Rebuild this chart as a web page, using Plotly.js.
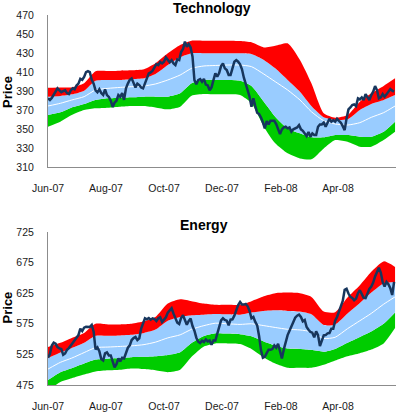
<!DOCTYPE html>
<html><head><meta charset="utf-8">
<script src="https://cdn.plot.ly/plotly-3.0.1.min.js"></script>
<style>html,body{margin:0;padding:0;background:#fff}#chart{width:400px;height:414px}</style>
</head><body><div id="chart"></div>
<script>
const tickDates = ['2007-06-01','2007-08-01','2007-10-01','2007-12-01','2008-02-01','2008-04-01'];

const bandDates = ['2007-06-01','2007-06-14','2007-06-26','2007-07-09','2007-07-21','2007-08-03','2007-08-16','2007-08-28','2007-09-10','2007-09-22','2007-10-05','2007-10-18','2007-10-30','2007-11-12','2007-11-24','2007-12-07','2007-12-20','2008-01-01','2008-01-14','2008-01-26','2008-02-08','2008-02-21','2008-03-04','2008-03-17','2008-03-29','2008-04-11','2008-04-24','2008-05-06','2008-05-19','2008-05-31'];

const priceDates = [
'2007-06-01','2007-06-03','2007-06-05','2007-06-07','2007-06-09','2007-06-11','2007-06-13','2007-06-15','2007-06-17','2007-06-19','2007-06-21','2007-06-23','2007-06-25','2007-06-27','2007-06-29',
'2007-07-01','2007-07-03','2007-07-05','2007-07-07','2007-07-09','2007-07-11','2007-07-13','2007-07-15','2007-07-17','2007-07-19','2007-07-21','2007-07-23','2007-07-25','2007-07-27','2007-07-29','2007-07-31',
'2007-08-02','2007-08-04','2007-08-06','2007-08-08','2007-08-10','2007-08-12','2007-08-14','2007-08-16','2007-08-18','2007-08-20','2007-08-22','2007-08-24','2007-08-26','2007-08-28','2007-08-30',
'2007-09-01','2007-09-03','2007-09-05','2007-09-07','2007-09-09','2007-09-11','2007-09-13','2007-09-15','2007-09-17','2007-09-19','2007-09-21','2007-09-23','2007-09-25','2007-09-27','2007-09-29',
'2007-10-01','2007-10-03','2007-10-05','2007-10-07','2007-10-09','2007-10-11','2007-10-13','2007-10-15','2007-10-17','2007-10-19','2007-10-21','2007-10-23','2007-10-25','2007-10-27','2007-10-29','2007-10-31',
'2007-11-02','2007-11-04','2007-11-06','2007-11-08','2007-11-10','2007-11-12','2007-11-14','2007-11-16','2007-11-18','2007-11-20','2007-11-22','2007-11-24','2007-11-26','2007-11-28','2007-11-30',
'2007-12-02','2007-12-04','2007-12-06','2007-12-08','2007-12-10','2007-12-12','2007-12-14','2007-12-16','2007-12-18','2007-12-20','2007-12-22','2007-12-24','2007-12-26','2007-12-28','2007-12-30',
'2008-01-01','2008-01-03','2008-01-05','2008-01-07','2008-01-09','2008-01-11','2008-01-13','2008-01-15','2008-01-17','2008-01-19','2008-01-21','2008-01-23','2008-01-25','2008-01-27','2008-01-29','2008-01-31',
'2008-02-02','2008-02-04','2008-02-06','2008-02-08','2008-02-10','2008-02-12','2008-02-14','2008-02-16','2008-02-18','2008-02-20','2008-02-22','2008-02-24','2008-02-26','2008-02-28',
'2008-03-01','2008-03-03','2008-03-05','2008-03-07','2008-03-09','2008-03-11','2008-03-13','2008-03-15','2008-03-17','2008-03-19','2008-03-21','2008-03-23','2008-03-25','2008-03-27','2008-03-29','2008-03-31',
'2008-04-02','2008-04-04','2008-04-06','2008-04-08','2008-04-10','2008-04-12','2008-04-14','2008-04-16','2008-04-18','2008-04-20','2008-04-22','2008-04-24','2008-04-26','2008-04-28','2008-04-30',
'2008-05-02','2008-05-04','2008-05-06','2008-05-08','2008-05-10','2008-05-12','2008-05-14','2008-05-16','2008-05-18','2008-05-20','2008-05-22','2008-05-24','2008-05-26','2008-05-28','2008-05-30'];

// Technology
const techUpper2 = [393.7,394,394,398.3,410.9,411.2,411.6,411.9,413,419.3,429.8,438.5,443,443,443,443,442.7,441.3,436,437.8,440.3,422.8,398.3,366.8,362.2,365,379,387.8,395.5,403.5];
const techUpper1 = [384.3,385,386.7,390.6,401,401.8,401.8,402.5,403.5,408,417.5,425.6,429.8,429.8,429.8,429.8,429.8,429,422.8,414,401.8,389.5,374.5,362.6,359.8,360.5,370.3,376.6,380.8,386];
const techMA     = [374.5,377.3,380.8,384.3,391.3,393,394,394.8,395.5,397.6,401.8,407,414,416.5,417,417.5,417.5,415.8,408,400,391.3,380.8,368.5,359,355.6,354.5,357,362.6,367.5,374.5];
const techLower1 = [365,367.8,373,376.6,380.8,382.5,383.2,383.6,384.3,384.3,384.3,387.8,398.3,401.8,401.8,401.8,401,395.5,379,363.3,351,345.8,341.6,341.6,344,344,342.3,342.3,347.5,358];
const techLower2 = [352.8,358,365,370.3,372,372.7,373.8,374.5,374.5,373,371,373.8,385.3,387,386.7,386.7,386,377.3,352.8,335.3,324.8,319.5,318.5,330,338.8,337,331.8,331.8,338.8,347.5];
const techPrice = [
382.5,380.8,383,386,390,393,391,389,390,391,388,387,391,393,392,396,398,403,402,405,
410,411,410,402,398,391,389,392,388,386,392,386,384,380,373.5,378,380,386,384,388,
381,393,398,402,403.5,398,394,398,396.5,394,393,398.2,404.2,408.7,409.8,411.5,415,418.5,417.5,420.6,
419.2,421,425.5,423.4,420.3,422.7,419.2,417.5,423.4,422.7,431.1,434.3,442,436.7,439.5,436,426.2,401.7,397.2,401.7,
402.8,400,403,397,396,391,394,401.7,408.7,405.2,409,416.4,419.2,414,412.2,407,407,414,421,422.7,
421,418.2,413,404.2,398.2,391.2,384.2,373.7,382.5,374.4,367.4,366,362.5,357.3,351,358.7,355.2,359,359,359,
355.5,349.2,345,350,352,352.7,351,352,347.5,350,351,352,354.5,350,348.5,345.7,342.9,347.1,342.2,345.7,
344,344,352.7,355.2,355.2,357,352.7,357,361.1,358,359.7,358,361.1,359,357,353.4,349.2,361.5,370.9,373,
375.5,376.2,374.4,382.5,381.4,383.5,380.7,387,383.5,380.7,386,389.5,395.4,391.2,382.5,383.5,387,384.2,386.7,389.5,
392.3,390.5,389.5];

// Energy
const enerUpper2 = [537,544,552,560,575,574,574,575,579,586,608,615,612,608,606,606,606,612,620,625,626,625,619,595,594,618,638,660,677,668];
const enerUpper1 = [519,528,535.5,544,555.5,555.5,556,557,560,565.5,580,586,589,590,591,590.5,590,593.5,596,597,596,595,590.5,573,574,592,609,626,641,643.5];
const enerMA     = [501,512,519,528,536,537,538,539,541,545,552,557,566,572,576,575,574,575,572,569,566,565,562,551,553,567,580,592,607,619];
const enerLower1 = [483,496,502.5,510,516.5,518,519,520.5,521,522,524,528.5,543.5,555,559.5,559,558,554.5,546,539.5,534.5,534,532.5,529.5,534,544,553.5,562.5,575,593.5];
const enerLower2 = [465,480,486,492,497,499,500,502,501,499,496,500,521,538,543,543,542,534,520,510,503,503,503,508,515,522,527,533,543,568];
const enerPrice = [
519.5,525.5,539.7,544.1,542.4,537,534.8,533.7,524.4,526.6,532.6,535.3,539.7,544.6,548.5,552.3,556.6,567,563.2,568.7,
570.3,570.3,569.8,573,562.1,533.2,536.4,530.4,517.3,515.1,526.6,528.2,523.3,523.3,511.3,503.6,509.1,518.4,513.5,519.5,
518.4,529.3,535.9,539.7,548.5,551.7,553.4,548.5,551.2,567,575.2,584,582.3,584.5,581.8,584,582.9,579.6,584,585.6,
578,582.9,585.6,593.3,597.1,600.4,591.6,582.9,576.9,574.7,584.5,588.9,581.2,573.6,579.6,583.4,571.4,563.8,552.3,545.7,
543.5,547.4,545.2,549.6,546.3,547.9,540.8,547.9,547.4,558.3,571.4,580.7,584,581.2,580.1,572.5,581.8,582.3,588.3,599.3,
605.8,610.7,606.4,606.4,607.5,603.6,596,584,586.2,578,572.5,555,532,519.5,521.1,527.1,532.6,532.6,533.7,539.7,
536,542.4,527.7,518.4,533.2,547.4,556.6,563.8,570.3,579.1,585.1,588.3,590,586.2,579.1,581.2,569.8,565.4,561.6,560.5,
552.8,562.7,556.6,538.6,549.6,556.1,556.6,559.4,559.9,567,567,580.1,586.2,594.3,600.9,612.4,630.4,632.1,624.4,619,
617.3,613.5,616.2,625,629.9,623.3,617.3,616.8,625,632.1,635.9,642.4,652.3,659.9,666.5,658.8,643,635.9,643.5,639.7,
633.1,622,643.5];

const RED = '#FF0000', BLUE = '#99CCFF', GREEN = '#00CC00', NAVY = '#17365D';
const bandShape = {shape:'spline', smoothing:0.6, width:0};

function panel(xa, ya, L2, L1, M, U1, U2, P) {
  return [
    {x:bandDates, y:L2, xaxis:xa, yaxis:ya, mode:'lines', line:Object.assign({color:GREEN}, bandShape), hoverinfo:'skip'},
    {x:bandDates, y:L1, xaxis:xa, yaxis:ya, mode:'lines', fill:'tonexty', fillcolor:GREEN, line:Object.assign({color:GREEN}, bandShape), hoverinfo:'skip'},
    {x:bandDates, y:U1, xaxis:xa, yaxis:ya, mode:'lines', fill:'tonexty', fillcolor:BLUE, line:Object.assign({color:BLUE}, bandShape), hoverinfo:'skip'},
    {x:bandDates, y:U2, xaxis:xa, yaxis:ya, mode:'lines', fill:'tonexty', fillcolor:RED, line:Object.assign({color:RED}, bandShape), hoverinfo:'skip'},
    {x:bandDates, y:M, xaxis:xa, yaxis:ya, mode:'lines', line:{color:'#FFFFFF', width:1, shape:'spline', smoothing:0.6}, hoverinfo:'skip'},
    {x:priceDates, y:P, xaxis:xa, yaxis:ya, mode:'lines', line:{color:NAVY, width:2.5}, hoverinfo:'skip'}
  ];
}

const data = panel('x','y', techLower2, techLower1, techMA, techUpper1, techUpper2, techPrice)
  .concat(panel('x2','y2', enerLower2, enerLower1, enerMA, enerUpper1, enerUpper2, enerPrice));

const tickFont = {family:'Liberation Sans, Arial, sans-serif', size:10.5, color:'#1a1a1a'};
function xAx(anchor) {
  return {type:'date', anchor:anchor, range:['2007-06-01','2008-06-01'], tickvals:tickDates, tickformat:'%b-%y',
    ticks:'outside', ticklen:11, tickcolor:'rgba(0,0,0,0)', showline:true, linecolor:'#8c8c8c', linewidth:1,
    showgrid:false, zeroline:false, tickfont:tickFont, fixedrange:true};
}
function yAx(domain, range, dtick, anchor) {
  return {domain:domain, anchor:anchor, range:range, dtick:dtick, tick0:range[0], ticks:'outside', ticklen:11,
    tickcolor:'rgba(0,0,0,0)', showline:true, linecolor:'#8c8c8c', linewidth:1, showgrid:false, zeroline:false,
    tickfont:tickFont, fixedrange:true};
}

const titleFont = {family:'Liberation Sans, Arial, sans-serif', size:14, color:'#000', weight:'bold'};
const axTitleFont = {family:'Liberation Sans, Arial, sans-serif', size:13, color:'#000', weight:'bold'};

const layout = {
  width:400, height:414,
  margin:{l:48, r:4, t:15, b:29},
  paper_bgcolor:'#fff', plot_bgcolor:'#fff',
  showlegend:false,
  xaxis: xAx('y'),
  yaxis: yAx([0.588,1], [310,470], 20, 'x'),
  xaxis2: xAx('y2'),
  yaxis2: yAx([0,0.4135], [475,725], 50, 'x2'),
  annotations:[
    {text:'Technology', xref:'paper', yref:'paper', x:0.471, y:1.019, xanchor:'center', yanchor:'middle', showarrow:false, font:titleFont},
    {text:'Energy', xref:'paper', yref:'paper', x:0.447, y:0.432, xanchor:'center', yanchor:'middle', showarrow:false, font:titleFont},
    {text:'Price', xref:'paper', yref:'paper', x:-0.115, y:0.792, xanchor:'center', yanchor:'middle', textangle:-90, showarrow:false, font:axTitleFont},
    {text:'Price', xref:'paper', yref:'paper', x:-0.115, y:0.2095, xanchor:'center', yanchor:'middle', textangle:-90, showarrow:false, font:axTitleFont}
  ]
};

Plotly.newPlot('chart', data, layout, {staticPlot:true, displayModeBar:false});
</script>
</body></html>
